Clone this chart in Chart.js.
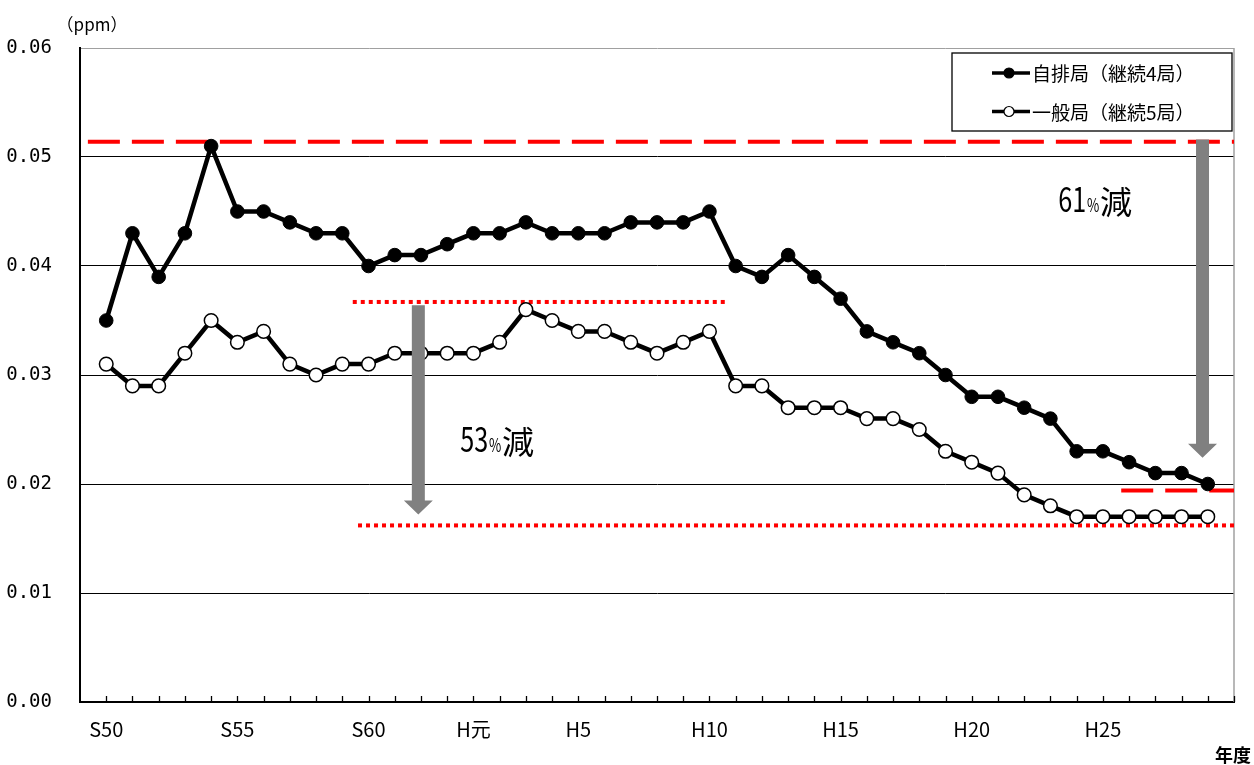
<!DOCTYPE html>
<html lang="ja">
<head>
<meta charset="utf-8">
<title>二酸化窒素濃度の経年変化</title>
<script src="https://cdn.jsdelivr.net/npm/chart.js@4.4.1/dist/chart.umd.min.js"></script>
<style>
  html, body { margin:0; padding:0; background:#fff; }
  #wrap { position:relative; width:1254px; height:765px; }
</style>
</head>
<body>
<div id="wrap"><canvas id="chart" width="1254" height="765"></canvas></div>
<script>
/* ---- data (年度 = western year, S50 = 1975) ---- */
const years = [1975,1976,1977,1978,1979,1980,1981,1982,1983,1984,1985,1986,1987,1988,
  1989,1990,1991,1992,1993,1994,1995,1996,1997,1998,1999,2000,2001,2002,2003,2004,2005,
  2006,2007,2008,2009,2010,2011,2012,2013,2014,2015,2016,2017];
// 自排局（継続4局）
const jihai = [0.035,0.043,0.039,0.043,0.051,0.045,0.045,0.044,0.043,0.043,0.040,0.041,0.041,0.042,
  0.043,0.043,0.044,0.043,0.043,0.043,0.044,0.044,0.044,0.045,0.040,0.039,0.041,0.039,0.037,0.034,0.033,
  0.032,0.030,0.028,0.028,0.027,0.026,0.023,0.023,0.022,0.021,0.021,0.020];
// 一般局（継続5局）
const ippan = [0.031,0.029,0.029,0.032,0.035,0.033,0.034,0.031,0.030,0.031,0.031,0.032,0.032,0.032,
  0.032,0.033,0.036,0.035,0.034,0.034,0.033,0.032,0.033,0.034,0.029,0.029,0.027,0.027,0.027,0.026,0.026,
  0.025,0.023,0.022,0.021,0.019,0.018,0.017,0.017,0.017,0.017,0.017,0.017];

const tickYears  = [1975,1980,1985,1989,1993,1998,2003,2008,2013];
const tickLabels = ['S50','S55','S60','H元','H5','H10','H15','H20','H25'];

// reference levels (ppm) and their year spans
const dashLevels = [0.0514, 0.0194];
const dashFrom   = [1974.3, 2013.7];
const dashTo     = [2018, 2018];
const dotLevels  = [0.0367, 0.0162];
const dotFrom    = [1984.4, 1984.6];
const dotTo      = [1998.7, 2018];

// reduction arrows and notes
const arrowYears = [1986.9, 2016.8];
const arrowFrom  = [0.0364, 0.0516];
const arrowTo    = [0.0172, 0.0224];
const noteNums   = ['53', '61'];
const noteYears  = [1988.5, 2011.3];
const noteLevels = [0.0229, 0.0450];

const JP = '"Noto Sans CJK JP", "Noto Sans CJK SC", sans-serif';

/* ---- overlay drawing ---- */
const overlay = {
  id: 'overlay',
  beforeDatasetsDraw(chart){
    const {ctx, chartArea:a, scales:{x, y}} = chart;
    ctx.save();
    // right border of plot area
    ctx.strokeStyle = '#a0a0a0'; ctx.lineWidth = 1.5;
    ctx.beginPath(); ctx.moveTo(a.right, a.top); ctx.lineTo(a.right, a.bottom); ctx.stroke();
    // year ticks (inside)
    ctx.strokeStyle = '#000'; ctx.lineWidth = 1.3;
    for (let yr = 1975; yr <= 2018; yr++) {
      const px = Math.round(x.getPixelForValue(yr)) + 0.5;
      ctx.beginPath(); ctx.moveTo(px, a.bottom); ctx.lineTo(px, a.bottom - 6); ctx.stroke();
    }
    // red reference lines
    ctx.strokeStyle = '#ff0000'; ctx.lineWidth = 4; ctx.lineCap = 'butt';
    ctx.setLineDash([32, 12]);
    dashLevels.forEach((v, i) => {
      const py = y.getPixelForValue(v);
      ctx.beginPath(); ctx.moveTo(x.getPixelForValue(dashFrom[i]), py);
      ctx.lineTo(Math.min(x.getPixelForValue(dashTo[i]), a.right), py); ctx.stroke();
    });
    ctx.setLineDash([4, 4]);
    dotLevels.forEach((v, i) => {
      const py = y.getPixelForValue(v);
      ctx.beginPath(); ctx.moveTo(x.getPixelForValue(dotFrom[i]), py);
      ctx.lineTo(Math.min(x.getPixelForValue(dotTo[i]), a.right), py); ctx.stroke();
    });
    ctx.restore();
  },
  afterDatasetsDraw(chart){
    const {ctx, chartArea:a, scales:{x, y}} = chart;
    ctx.save();
    // gray arrows
    ctx.fillStyle = '#808080';
    arrowYears.forEach((yr, i) => {
      const cx = x.getPixelForValue(yr);
      const top = y.getPixelForValue(arrowFrom[i]);
      const tip = y.getPixelForValue(arrowTo[i]);
      const head = 14, sw = 6.5, hw = 14.5;
      ctx.beginPath();
      ctx.moveTo(cx - sw, top); ctx.lineTo(cx + sw, top);
      ctx.lineTo(cx + sw, tip - head); ctx.lineTo(cx + hw, tip - head);
      ctx.lineTo(cx, tip); ctx.lineTo(cx - hw, tip - head);
      ctx.lineTo(cx - sw, tip - head); ctx.closePath(); ctx.fill();
    });
    // notes "xx%減"
    ctx.fillStyle = '#000'; ctx.textBaseline = 'alphabetic'; ctx.textAlign = 'left';
    noteNums.forEach((n, i) => {
      let px = x.getPixelForValue(noteYears[i]);
      const py = y.getPixelForValue(noteLevels[i]);
      ctx.save(); ctx.translate(px, py); ctx.scale(0.74, 1);
      ctx.font = '34px ' + JP; ctx.fillText(n, 0, 0);
      let w = ctx.measureText(n).width;
      ctx.font = '18px ' + JP; ctx.fillText('%', w + 1, 0);
      w += ctx.measureText('%').width + 2;
      ctx.restore();
      px += w * 0.74;
      ctx.font = '32px ' + JP; ctx.fillText('減', px, py + 2);
    });
    ctx.restore();
  },
  afterDraw(chart){
    const {ctx, chartArea:a} = chart;
    ctx.save();
    // legend box
    const L = a.right - 282, T = a.top + 5, W = 280, H = 78;
    ctx.fillStyle = '#fff'; ctx.fillRect(L, T, W, H);
    ctx.strokeStyle = '#000'; ctx.lineWidth = 1.3; ctx.strokeRect(L, T, W, H);
    chart.data.datasets.forEach((ds, i) => {
      const cy = T + 20 + i * 38.5;
      ctx.strokeStyle = '#000'; ctx.lineWidth = 3.5;
      ctx.beginPath(); ctx.moveTo(L + 40, cy); ctx.lineTo(L + 78, cy); ctx.stroke();
      ctx.beginPath(); ctx.arc(L + 57, cy, 5, 0, Math.PI * 2);
      ctx.fillStyle = ds.pointBackgroundColor; ctx.fill();
      ctx.lineWidth = 1.2; ctx.stroke();
      ctx.fillStyle = '#000'; ctx.font = '19px ' + JP;
      ctx.textBaseline = 'middle'; ctx.textAlign = 'left';
      ctx.fillText(ds.label, L + 80, cy + 1);
    });
    // unit and axis title
    ctx.fillStyle = '#000';
    ctx.font = '17px ' + JP; ctx.textAlign = 'center'; ctx.textBaseline = 'middle';
    ctx.fillText('（ppm）', 92, a.top - 23);
    ctx.font = 'bold 18px ' + JP; ctx.textAlign = 'right';
    ctx.fillText('年度', chart.width - 3, chart.height - 10);
    ctx.restore();
  }
};

const pts = vals => years.map((yr, i) => ({x: yr, y: vals[i]}));

new Chart(document.getElementById('chart'), {
  type: 'line',
  data: {
    datasets: [
      { label: '自排局（継続4局）', data: pts(jihai), borderColor: '#000', borderWidth: 4.5,
        pointRadius: 6.8, pointBackgroundColor: '#000', pointBorderColor: '#000', pointBorderWidth: 1,
        tension: 0 },
      { label: '一般局（継続5局）', data: pts(ippan), borderColor: '#000', borderWidth: 4.5,
        pointRadius: 6.8, pointBackgroundColor: '#fff', pointBorderColor: '#000', pointBorderWidth: 1.5,
        tension: 0 }
    ]
  },
  options: {
    responsive: false,
    devicePixelRatio: 1,
    animation: false,
    layout: { padding: { top: 48, right: 20, left: 0, bottom: 0 } },
    plugins: { legend: { display: false }, tooltip: { enabled: false } },
    scales: {
      x: {
        type: 'linear', min: 1974, max: 2018,
        afterFit: s => { s.height = 63; },
        grid: { display: false, drawTicks: false },
        border: { display: true, color: '#000', width: 2 },
        ticks: {
          stepSize: 1, autoSkip: false, maxRotation: 0, padding: 15,
          color: '#000', font: { family: JP, size: 20 },
          callback: v => { const k = tickYears.indexOf(v); return k < 0 ? '' : tickLabels[k]; }
        }
      },
      y: {
        min: 0, max: 0.06,
        afterFit: s => { s.width = 80; },
        grid: { color: ctx => ctx.tick && ctx.tick.value >= 0.06 ? '#a0a0a0' : '#000', lineWidth: 1, drawTicks: false },
        border: { display: true, color: '#000', width: 2 },
        ticks: {
          stepSize: 0.01, padding: 28, color: '#000',
          font: { family: '"DejaVu Sans Mono", monospace', size: 19 },
          callback: v => v.toFixed(2)
        }
      }
    }
  },
  plugins: [overlay]
});
</script>
</body>
</html>
